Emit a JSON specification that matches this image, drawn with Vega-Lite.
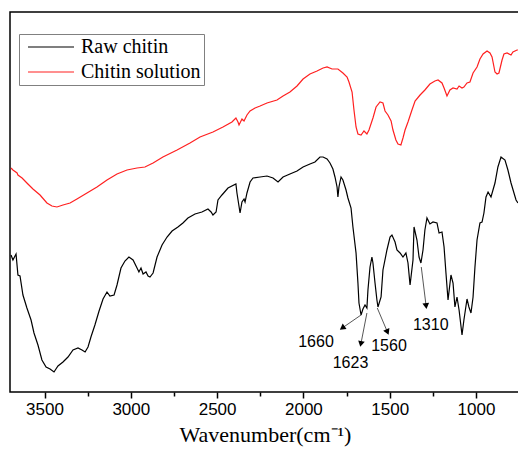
{
"$schema": "https://vega.github.io/schema/vega-lite/v6.json",
"width": 510, "height": 380,
"autosize": {"type": "none"},
"padding": {"left": 10, "top": 12, "right": 0, "bottom": 58},
"background": "white",
"config": {"view": {"stroke": "black", "strokeWidth": 1.5}},
"datasets": {
"spec": [
{"s":"Raw chitin","wn":3694,"t":137},{"s":"Raw chitin","wn":3683,"t":132},{"s":"Raw chitin","wn":3665,"t":138},{"s":"Raw chitin","wn":3654,"t":117},{"s":"Raw chitin","wn":3642,"t":116},{"s":"Raw chitin","wn":3625,"t":97},{"s":"Raw chitin","wn":3602,"t":84},{"s":"Raw chitin","wn":3578,"t":72},{"s":"Raw chitin","wn":3561,"t":59},{"s":"Raw chitin","wn":3538,"t":47},{"s":"Raw chitin","wn":3515,"t":32},{"s":"Raw chitin","wn":3491,"t":25},{"s":"Raw chitin","wn":3468,"t":23},{"s":"Raw chitin","wn":3445,"t":20},{"s":"Raw chitin","wn":3422,"t":26},{"s":"Raw chitin","wn":3393,"t":30},{"s":"Raw chitin","wn":3364,"t":35},{"s":"Raw chitin","wn":3335,"t":42},{"s":"Raw chitin","wn":3306,"t":44},{"s":"Raw chitin","wn":3283,"t":42},{"s":"Raw chitin","wn":3265,"t":40},{"s":"Raw chitin","wn":3248,"t":45},{"s":"Raw chitin","wn":3231,"t":55},{"s":"Raw chitin","wn":3208,"t":67},{"s":"Raw chitin","wn":3184,"t":81},{"s":"Raw chitin","wn":3161,"t":93},{"s":"Raw chitin","wn":3138,"t":100},{"s":"Raw chitin","wn":3121,"t":96},{"s":"Raw chitin","wn":3097,"t":97},{"s":"Raw chitin","wn":3080,"t":107},{"s":"Raw chitin","wn":3057,"t":124},{"s":"Raw chitin","wn":3034,"t":131},{"s":"Raw chitin","wn":3011,"t":135},{"s":"Raw chitin","wn":2987,"t":132},{"s":"Raw chitin","wn":2964,"t":124},{"s":"Raw chitin","wn":2953,"t":120},{"s":"Raw chitin","wn":2941,"t":124},{"s":"Raw chitin","wn":2929,"t":118},{"s":"Raw chitin","wn":2912,"t":120},{"s":"Raw chitin","wn":2900,"t":116},{"s":"Raw chitin","wn":2889,"t":115},{"s":"Raw chitin","wn":2871,"t":119},{"s":"Raw chitin","wn":2848,"t":135},{"s":"Raw chitin","wn":2819,"t":147},{"s":"Raw chitin","wn":2790,"t":155},{"s":"Raw chitin","wn":2761,"t":161},{"s":"Raw chitin","wn":2727,"t":165},{"s":"Raw chitin","wn":2698,"t":169},{"s":"Raw chitin","wn":2669,"t":174},{"s":"Raw chitin","wn":2628,"t":178},{"s":"Raw chitin","wn":2588,"t":180},{"s":"Raw chitin","wn":2553,"t":183},{"s":"Raw chitin","wn":2535,"t":180},{"s":"Raw chitin","wn":2524,"t":177},{"s":"Raw chitin","wn":2506,"t":180},{"s":"Raw chitin","wn":2495,"t":192},{"s":"Raw chitin","wn":2472,"t":197},{"s":"Raw chitin","wn":2437,"t":204},{"s":"Raw chitin","wn":2391,"t":208},{"s":"Raw chitin","wn":2385,"t":199},{"s":"Raw chitin","wn":2367,"t":179},{"s":"Raw chitin","wn":2356,"t":190},{"s":"Raw chitin","wn":2344,"t":193},{"s":"Raw chitin","wn":2338,"t":190},{"s":"Raw chitin","wn":2327,"t":199},{"s":"Raw chitin","wn":2309,"t":210},{"s":"Raw chitin","wn":2292,"t":214},{"s":"Raw chitin","wn":2251,"t":215},{"s":"Raw chitin","wn":2211,"t":216},{"s":"Raw chitin","wn":2176,"t":214},{"s":"Raw chitin","wn":2147,"t":210},{"s":"Raw chitin","wn":2118,"t":215},{"s":"Raw chitin","wn":2078,"t":218},{"s":"Raw chitin","wn":2037,"t":221},{"s":"Raw chitin","wn":2002,"t":225},{"s":"Raw chitin","wn":1962,"t":228},{"s":"Raw chitin","wn":1933,"t":230},{"s":"Raw chitin","wn":1904,"t":235},{"s":"Raw chitin","wn":1886,"t":235},{"s":"Raw chitin","wn":1863,"t":233},{"s":"Raw chitin","wn":1846,"t":229},{"s":"Raw chitin","wn":1829,"t":223},{"s":"Raw chitin","wn":1817,"t":215},{"s":"Raw chitin","wn":1805,"t":205},{"s":"Raw chitin","wn":1800,"t":195},{"s":"Raw chitin","wn":1794,"t":205},{"s":"Raw chitin","wn":1782,"t":215},{"s":"Raw chitin","wn":1771,"t":212},{"s":"Raw chitin","wn":1753,"t":202},{"s":"Raw chitin","wn":1742,"t":194},{"s":"Raw chitin","wn":1724,"t":184},{"s":"Raw chitin","wn":1713,"t":165},{"s":"Raw chitin","wn":1695,"t":139},{"s":"Raw chitin","wn":1684,"t":109},{"s":"Raw chitin","wn":1678,"t":89},{"s":"Raw chitin","wn":1666,"t":77},{"s":"Raw chitin","wn":1655,"t":83},{"s":"Raw chitin","wn":1643,"t":87},{"s":"Raw chitin","wn":1632,"t":84},{"s":"Raw chitin","wn":1626,"t":102},{"s":"Raw chitin","wn":1614,"t":125},{"s":"Raw chitin","wn":1603,"t":135},{"s":"Raw chitin","wn":1597,"t":129},{"s":"Raw chitin","wn":1585,"t":109},{"s":"Raw chitin","wn":1574,"t":92},{"s":"Raw chitin","wn":1568,"t":85},{"s":"Raw chitin","wn":1550,"t":95},{"s":"Raw chitin","wn":1539,"t":122},{"s":"Raw chitin","wn":1516,"t":142},{"s":"Raw chitin","wn":1498,"t":155},{"s":"Raw chitin","wn":1487,"t":157},{"s":"Raw chitin","wn":1469,"t":150},{"s":"Raw chitin","wn":1458,"t":142},{"s":"Raw chitin","wn":1440,"t":139},{"s":"Raw chitin","wn":1423,"t":135},{"s":"Raw chitin","wn":1406,"t":139},{"s":"Raw chitin","wn":1394,"t":129},{"s":"Raw chitin","wn":1382,"t":107},{"s":"Raw chitin","wn":1365,"t":132},{"s":"Raw chitin","wn":1359,"t":165},{"s":"Raw chitin","wn":1342,"t":152},{"s":"Raw chitin","wn":1330,"t":135},{"s":"Raw chitin","wn":1319,"t":129},{"s":"Raw chitin","wn":1307,"t":142},{"s":"Raw chitin","wn":1296,"t":162},{"s":"Raw chitin","wn":1284,"t":174},{"s":"Raw chitin","wn":1267,"t":168},{"s":"Raw chitin","wn":1249,"t":170},{"s":"Raw chitin","wn":1226,"t":169},{"s":"Raw chitin","wn":1214,"t":159},{"s":"Raw chitin","wn":1197,"t":160},{"s":"Raw chitin","wn":1185,"t":145},{"s":"Raw chitin","wn":1174,"t":119},{"s":"Raw chitin","wn":1162,"t":92},{"s":"Raw chitin","wn":1145,"t":117},{"s":"Raw chitin","wn":1133,"t":109},{"s":"Raw chitin","wn":1122,"t":85},{"s":"Raw chitin","wn":1110,"t":95},{"s":"Raw chitin","wn":1098,"t":82},{"s":"Raw chitin","wn":1081,"t":57},{"s":"Raw chitin","wn":1070,"t":72},{"s":"Raw chitin","wn":1052,"t":93},{"s":"Raw chitin","wn":1041,"t":85},{"s":"Raw chitin","wn":1029,"t":79},{"s":"Raw chitin","wn":1017,"t":95},{"s":"Raw chitin","wn":1006,"t":125},{"s":"Raw chitin","wn":994,"t":152},{"s":"Raw chitin","wn":977,"t":169},{"s":"Raw chitin","wn":965,"t":170},{"s":"Raw chitin","wn":954,"t":179},{"s":"Raw chitin","wn":942,"t":195},{"s":"Raw chitin","wn":930,"t":200},{"s":"Raw chitin","wn":913,"t":195},{"s":"Raw chitin","wn":890,"t":209},{"s":"Raw chitin","wn":873,"t":225},{"s":"Raw chitin","wn":855,"t":235},{"s":"Raw chitin","wn":832,"t":232},{"s":"Raw chitin","wn":815,"t":222},{"s":"Raw chitin","wn":797,"t":209},{"s":"Raw chitin","wn":768,"t":192},{"s":"Raw chitin","wn":757,"t":189},
{"s":"Chitin solution","wn":3694,"t":224},{"s":"Chitin solution","wn":3683,"t":222},{"s":"Chitin solution","wn":3659,"t":219},{"s":"Chitin solution","wn":3654,"t":217},{"s":"Chitin solution","wn":3630,"t":214},{"s":"Chitin solution","wn":3602,"t":209},{"s":"Chitin solution","wn":3567,"t":203},{"s":"Chitin solution","wn":3526,"t":197},{"s":"Chitin solution","wn":3486,"t":189},{"s":"Chitin solution","wn":3457,"t":186},{"s":"Chitin solution","wn":3428,"t":185},{"s":"Chitin solution","wn":3393,"t":187},{"s":"Chitin solution","wn":3352,"t":189},{"s":"Chitin solution","wn":3312,"t":193},{"s":"Chitin solution","wn":3254,"t":199},{"s":"Chitin solution","wn":3196,"t":205},{"s":"Chitin solution","wn":3138,"t":212},{"s":"Chitin solution","wn":3080,"t":218},{"s":"Chitin solution","wn":3022,"t":222},{"s":"Chitin solution","wn":2964,"t":224},{"s":"Chitin solution","wn":2918,"t":225},{"s":"Chitin solution","wn":2871,"t":229},{"s":"Chitin solution","wn":2814,"t":235},{"s":"Chitin solution","wn":2732,"t":242},{"s":"Chitin solution","wn":2657,"t":249},{"s":"Chitin solution","wn":2599,"t":255},{"s":"Chitin solution","wn":2524,"t":260},{"s":"Chitin solution","wn":2466,"t":265},{"s":"Chitin solution","wn":2414,"t":270},{"s":"Chitin solution","wn":2391,"t":274},{"s":"Chitin solution","wn":2379,"t":270},{"s":"Chitin solution","wn":2373,"t":267},{"s":"Chitin solution","wn":2356,"t":273},{"s":"Chitin solution","wn":2344,"t":271},{"s":"Chitin solution","wn":2327,"t":277},{"s":"Chitin solution","wn":2309,"t":281},{"s":"Chitin solution","wn":2280,"t":284},{"s":"Chitin solution","wn":2251,"t":286},{"s":"Chitin solution","wn":2211,"t":289},{"s":"Chitin solution","wn":2153,"t":292},{"s":"Chitin solution","wn":2118,"t":296},{"s":"Chitin solution","wn":2078,"t":300},{"s":"Chitin solution","wn":2037,"t":306},{"s":"Chitin solution","wn":2002,"t":313},{"s":"Chitin solution","wn":1962,"t":318},{"s":"Chitin solution","wn":1921,"t":321},{"s":"Chitin solution","wn":1886,"t":324},{"s":"Chitin solution","wn":1863,"t":325},{"s":"Chitin solution","wn":1834,"t":323},{"s":"Chitin solution","wn":1800,"t":323},{"s":"Chitin solution","wn":1771,"t":319},{"s":"Chitin solution","wn":1747,"t":315},{"s":"Chitin solution","wn":1736,"t":310},{"s":"Chitin solution","wn":1718,"t":300},{"s":"Chitin solution","wn":1707,"t":282},{"s":"Chitin solution","wn":1695,"t":265},{"s":"Chitin solution","wn":1684,"t":258},{"s":"Chitin solution","wn":1666,"t":257},{"s":"Chitin solution","wn":1649,"t":261},{"s":"Chitin solution","wn":1632,"t":258},{"s":"Chitin solution","wn":1620,"t":262},{"s":"Chitin solution","wn":1597,"t":274},{"s":"Chitin solution","wn":1579,"t":285},{"s":"Chitin solution","wn":1556,"t":290},{"s":"Chitin solution","wn":1539,"t":289},{"s":"Chitin solution","wn":1527,"t":281},{"s":"Chitin solution","wn":1510,"t":277},{"s":"Chitin solution","wn":1492,"t":271},{"s":"Chitin solution","wn":1481,"t":262},{"s":"Chitin solution","wn":1464,"t":252},{"s":"Chitin solution","wn":1452,"t":248},{"s":"Chitin solution","wn":1435,"t":247},{"s":"Chitin solution","wn":1423,"t":254},{"s":"Chitin solution","wn":1411,"t":262},{"s":"Chitin solution","wn":1394,"t":270},{"s":"Chitin solution","wn":1371,"t":282},{"s":"Chitin solution","wn":1353,"t":291},{"s":"Chitin solution","wn":1324,"t":297},{"s":"Chitin solution","wn":1296,"t":302},{"s":"Chitin solution","wn":1267,"t":308},{"s":"Chitin solution","wn":1238,"t":311},{"s":"Chitin solution","wn":1220,"t":312},{"s":"Chitin solution","wn":1197,"t":309},{"s":"Chitin solution","wn":1185,"t":304},{"s":"Chitin solution","wn":1168,"t":296},{"s":"Chitin solution","wn":1151,"t":302},{"s":"Chitin solution","wn":1133,"t":304},{"s":"Chitin solution","wn":1110,"t":303},{"s":"Chitin solution","wn":1098,"t":306},{"s":"Chitin solution","wn":1081,"t":304},{"s":"Chitin solution","wn":1070,"t":305},{"s":"Chitin solution","wn":1052,"t":309},{"s":"Chitin solution","wn":1035,"t":310},{"s":"Chitin solution","wn":1017,"t":319},{"s":"Chitin solution","wn":994,"t":325},{"s":"Chitin solution","wn":977,"t":333},{"s":"Chitin solution","wn":959,"t":338},{"s":"Chitin solution","wn":936,"t":341},{"s":"Chitin solution","wn":919,"t":339},{"s":"Chitin solution","wn":907,"t":335},{"s":"Chitin solution","wn":890,"t":320},{"s":"Chitin solution","wn":878,"t":318},{"s":"Chitin solution","wn":867,"t":319},{"s":"Chitin solution","wn":849,"t":332},{"s":"Chitin solution","wn":838,"t":338},{"s":"Chitin solution","wn":820,"t":339},{"s":"Chitin solution","wn":797,"t":337},{"s":"Chitin solution","wn":786,"t":340},{"s":"Chitin solution","wn":762,"t":342},{"s":"Chitin solution","wn":757,"t":342}
],
"ann": [
{"label":"1660","x0":1666,"y0":77,"x1":1775,"y1":64,"tx":1927,"ty":50},
{"label":"1623","x0":1632,"y0":79,"x1":1667,"y1":48,"tx":1727,"ty":29},
{"label":"1560","x0":1572,"y0":84,"x1":1513,"y1":60,"tx":1504,"ty":46},
{"label":"1310","x0":1317,"y0":125,"x1":1289,"y1":86,"tx":1262,"ty":67}
]
},
"encoding": {
"x": {"type": "quantitative", "scale": {"domain": [745, 3700], "reverse": true, "nice": false, "zero": false}},
"y": {"type": "quantitative", "scale": {"domain": [0, 380], "nice": false, "zero": false}, "axis": null}
},
"layer": [
{
"data": {"name": "spec"},
"mark": {"type": "line", "strokeWidth": 1.2, "clip": true},
"encoding": {
"x": {"field": "wn", "type": "quantitative",
"axis": {"values": [1000, 1250, 1500, 1750, 2000, 2250, 2500, 2750, 3000, 3250, 3500],
"labelExpr": "datum.value % 500 == 0 ? format(datum.value, 'd') : ''",
"title": "Wavenumber(cm⁻¹)", "grid": false, "domain": false,
"tickColor": "black", "tickSize": {"condition": {"test": "datum.value % 500 != 0", "value": 4}, "value": 6}, "tickWidth": 1.5,
"labelFont": "Liberation Sans", "labelFontSize": 17, "labelColor": "black", "labelPadding": 3, "labelOverlap": false,
"titleFont": "Liberation Serif", "titleFontSize": 22, "titleFontWeight": "normal", "titleColor": "black", "titlePadding": 7}},
"y": {"field": "t", "type": "quantitative"},
"color": {"field": "s", "type": "nominal",
"scale": {"domain": ["Raw chitin", "Chitin solution"], "range": ["black", "#ff2020"]},
"legend": {"orient": "none", "legendX": 9, "legendY": 22, "title": null, "symbolType": "stroke", "symbolSize": 2116, "symbolStrokeWidth": 1.2,
"labelFont": "Liberation Serif", "labelFontSize": 20, "labelColor": "black", "labelLimit": 300, "strokeColor": "#808080", "fillColor": "white",
"padding": 3, "clipHeight": 20, "rowPadding": 5, "symbolOffset": 5, "labelOffset": 6}}
}
},
{
"data": {"name": "ann"},
"mark": {"type": "rule", "color": "#444444", "strokeWidth": 0.9},
"encoding": {"x": {"field": "x0", "type": "quantitative"}, "y": {"field": "y0", "type": "quantitative"}, "x2": {"field": "x1"}, "y2": {"field": "y1"}}
},
{
"data": {"name": "ann"}, "transform": [{"filter": "datum.label == '1660'"}],
"mark": {"type": "point", "shape": "triangle-up", "filled": true, "color": "black", "size": 45, "angle": 235, "opacity": 1},
"encoding": {"x": {"field": "x1", "type": "quantitative"}, "y": {"field": "y1", "type": "quantitative"}}
},
{
"data": {"name": "ann"}, "transform": [{"filter": "datum.label == '1623'"}],
"mark": {"type": "point", "shape": "triangle-up", "filled": true, "color": "black", "size": 45, "angle": 192, "opacity": 1},
"encoding": {"x": {"field": "x1", "type": "quantitative"}, "y": {"field": "y1", "type": "quantitative"}}
},
{
"data": {"name": "ann"}, "transform": [{"filter": "datum.label == '1560'"}],
"mark": {"type": "point", "shape": "triangle-up", "filled": true, "color": "black", "size": 45, "angle": 157, "opacity": 1},
"encoding": {"x": {"field": "x1", "type": "quantitative"}, "y": {"field": "y1", "type": "quantitative"}}
},
{
"data": {"name": "ann"}, "transform": [{"filter": "datum.label == '1310'"}],
"mark": {"type": "point", "shape": "triangle-up", "filled": true, "color": "black", "size": 45, "angle": 173, "opacity": 1},
"encoding": {"x": {"field": "x1", "type": "quantitative"}, "y": {"field": "y1", "type": "quantitative"}}
},
{
"data": {"name": "ann"},
"mark": {"type": "text", "font": "Liberation Sans", "fontSize": 16, "color": "black", "align": "center", "baseline": "middle"},
"encoding": {"x": {"field": "tx", "type": "quantitative"}, "y": {"field": "ty", "type": "quantitative"}, "text": {"field": "label"}}
}
]
}
